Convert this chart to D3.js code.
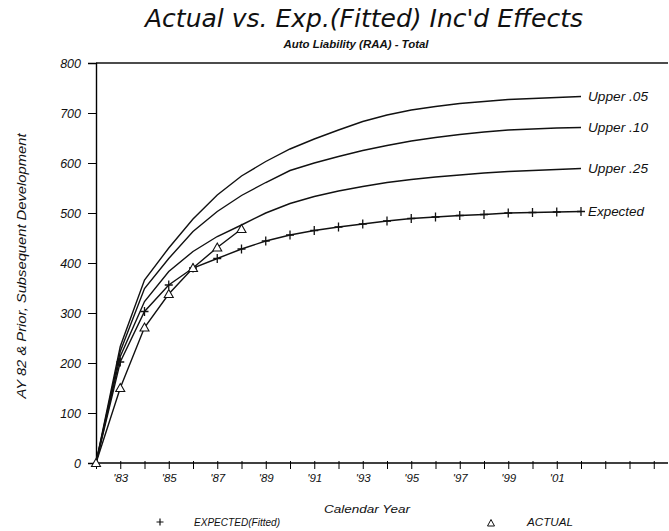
<!DOCTYPE html>
<html>
<head>
<meta charset="utf-8">
<script src="https://cdn.jsdelivr.net/npm/d3@7"></script>
<style>
    body { margin: 0; background: #fff; }
    svg text { fill: #111; }
    .lbl { font-family: "Liberation Sans", Arial, sans-serif; font-style: italic; }
    .title { font-family: "DejaVu Sans", sans-serif; font-weight: 200; font-style: italic; }
    .curve { fill: none; stroke: #111; stroke-width: 1.4px; }
</style>
</head>
<body>
<div id="chart"></div>
<script>
    // calendar years and values
    const years = [1982, 1983, 1984, 1985, 1986, 1987, 1988, 1989, 1990, 1991, 1992,
        1993, 1994, 1995, 1996, 1997, 1998, 1999, 2000, 2001, 2002];
    const expected = [0, 202, 303, 356, 390, 409, 428, 444, 456, 465, 472,
        478, 484, 489, 492, 495, 497, 500, 501, 502, 503];
    const upper25 = [0, 213, 323, 383, 423, 453, 476, 500, 519, 533, 544,
        553, 561, 567, 572, 576, 580, 583, 585, 587, 589];
    const upper10 = [0, 223, 349, 409, 463, 503, 535, 561, 585, 600, 613,
        625, 635, 644, 651, 657, 662, 666, 668, 670, 671];
    const upper05 = [0, 233, 366, 430, 488, 536, 574, 603, 628, 648, 666,
        683, 696, 706, 713, 719, 723, 727, 729, 731, 733];
    const actualYears = [1982, 1983, 1984, 1985, 1986, 1987, 1988];
    const actual = [0, 150, 271, 338, 390, 431, 468];

    const upperNames = ["Upper .05", "Upper .10", "Upper .25"];
    const yTicks = [0, 100, 200, 300, 400, 500, 600, 700, 800];
    const xLabelYears = [1983, 1985, 1987, 1989, 1991, 1993, 1995, 1997, 1999, 2001];

    const width = 669, height = 531;
    const svg = d3.select("#chart").append("svg")
        .attr("width", width)
        .attr("height", height);

    const x = d3.scaleLinear().domain([1982, 2005]).range([96, 653.75]);
    const y = d3.scaleLinear().domain([0, 800]).range([463, 63]);

    // wide italic text, stretched to the width seen in the picture
    function label(px, py, size, txt, len, anchor) {
        const t = svg.append("text").attr("class", "lbl")
            .attr("x", px).attr("y", py)
            .attr("font-size", size)
            .attr("text-anchor", anchor || "start")
            .text(txt);
        if (len) t.attr("textLength", len).attr("lengthAdjust", "spacingAndGlyphs");
        return t;
    }

    // frame: top line and axes
    svg.append("line").attr("x1", x(1982)).attr("x2", 668).attr("y1", y(800)).attr("y2", y(800))
        .attr("stroke", "#111").attr("stroke-width", 1.3);

    const yAxis = svg.append("g")
        .attr("transform", `translate(${x(1982)},0)`)
        .call(d3.axisLeft(y).tickValues(yTicks).tickSize(8).tickPadding(7));
    yAxis.select(".domain").attr("stroke-width", 1.4);
    yAxis.selectAll("text").attr("class", "lbl").attr("font-size", 12.5).attr("font-family", null);

    const xAxis = svg.append("g")
        .attr("transform", `translate(0,${y(0)})`)
        .call(d3.axisBottom(x).tickValues(d3.range(1982, 2006)).tickSize(5).tickSizeOuter(0)
            .tickFormat(d => xLabelYears.includes(d) ? "'" + String(d).slice(2) : ""));
    xAxis.select(".domain").attr("d", `M${x(1982)},0H668`).attr("stroke-width", 1.4);
    xAxis.selectAll(".tick line").attr("y1", -2).attr("y2", 6);
    xAxis.selectAll("text").attr("class", "lbl").attr("font-size", 11.5).attr("font-family", null)
        .attr("y", 11);

    // curves
    const line = d3.line().x((d, i) => x(years[i])).y(d => y(d));
    const uppers = [upper05, upper10, upper25];
    uppers.forEach((s, k) => {
        svg.append("path").attr("class", "curve").attr("d", line(s));
        label(x(2002) + 7, y(s[s.length - 1]) + 4, 12, upperNames[k], 60);
    });

    svg.append("path").attr("class", "curve").attr("d", line(expected));
    label(x(2002) + 7, y(expected[expected.length - 1]) + 4, 12, "Expected", 56);

    svg.append("g").selectAll("path")
        .data(expected.slice(1))
        .join("path")
        .attr("d", "M-4,0H4M0,-4.5V4.5")
        .attr("transform", (d, i) => `translate(${x(years[i + 1])},${y(d)})`)
        .attr("stroke", "#111").attr("stroke-width", 1.3);

    const aline = d3.line().x((d, i) => x(actualYears[i])).y(d => y(d));
    svg.append("path").attr("class", "curve").attr("d", aline(actual));
    svg.append("g").selectAll("path")
        .data(actual)
        .join("path")
        .attr("d", "M0,-4.5L4.5,3.5H-4.5Z")
        .attr("transform", (d, i) => `translate(${x(actualYears[i])},${y(d)})`)
        .attr("fill", "#fff").attr("stroke", "#111").attr("stroke-width", 1.1);

    // titles
    svg.append("text").attr("class", "title")
        .attr("x", 364).attr("y", 27).attr("text-anchor", "middle")
        .attr("font-size", 25)
        .attr("textLength", 438).attr("lengthAdjust", "spacingAndGlyphs")
        .text("Actual vs. Exp.(Fitted) Inc'd Effects");
    label(356, 48, 10, "Auto Liability (RAA) - Total", 145, "middle").attr("font-weight", "bold");
    label(0, 0, 12.5, "AY 82 & Prior, Subsequent Development", 265, "middle")
        .attr("transform", "translate(26,266) rotate(-90)");
    label(367, 513, 11, "Calendar Year", 86, "middle");

    // legend
    svg.append("path").attr("d", "M-3.5,0H3.5M0,-3.5V3.5")
        .attr("transform", "translate(160,522)").attr("stroke", "#111").attr("stroke-width", 1.2);
    label(194, 526, 11, "EXPECTED(Fitted)", 86);
    svg.append("path").attr("d", "M0,-3.5L3.5,3H-3.5Z")
        .attr("transform", "translate(491,523)").attr("fill", "none").attr("stroke", "#111");
    label(527, 526, 11, "ACTUAL", 46);
</script>
</body>
</html>
